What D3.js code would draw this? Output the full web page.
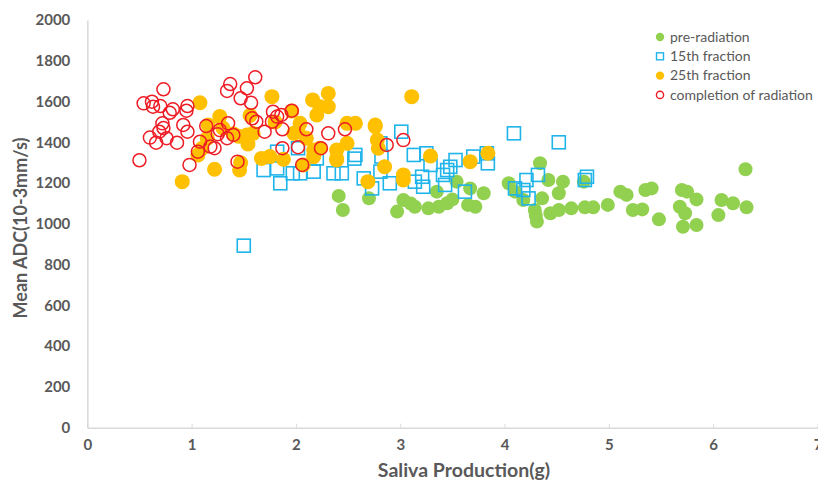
<!DOCTYPE html>
<html>
<head>
<meta charset="utf-8">
<script src="https://cdn.jsdelivr.net/npm/d3@7"></script>
<style>
  body { margin: 0; background: #fff; }
  text { font-family: Lato, "Open Sans", sans-serif; }
</style>
</head>
<body>
<div id="chart"></div>
<script>
const width = 818;
const height = 488;

const xTicks = [0, 1, 2, 3, 4, 5, 6, 7];
const yTicks = [0, 200, 400, 600, 800, 1000, 1200, 1400, 1600, 1800, 2000];

// [saliva (g), mean ADC]
const preRadiation = [
  [2.41, 1137], [2.45, 1068], [2.70, 1125], [2.97, 1060], [3.03, 1117],
  [3.14, 1084], [3.27, 1076], [3.37, 1084], [3.45, 1101], [3.35, 1158],
  [3.54, 1207], [3.67, 1174], [3.80, 1150], [3.65, 1093], [3.72, 1084],
  [4.04, 1199], [4.10, 1158], [4.34, 1297], [4.42, 1215], [4.56, 1207],
  [4.52, 1150], [4.36, 1125], [4.18, 1117], [4.76, 1207], [4.29, 1068],
  [4.31, 1011], [4.44, 1052], [4.52, 1068], [4.64, 1076], [4.77, 1081],
  [4.85, 1081], [4.99, 1093], [5.11, 1158], [5.17, 1142], [5.23, 1068],
  [5.32, 1071], [5.35, 1166], [5.41, 1174], [5.48, 1022], [5.70, 1166],
  [5.75, 1158], [5.68, 1084], [5.73, 1052], [5.84, 1120], [5.71, 986],
  [5.84, 994], [6.08, 1117], [6.19, 1101], [6.05, 1043], [6.32, 1081],
  [6.31, 1268], [3.10, 1100], [3.50, 1120], [4.30, 1040]
];

const fraction15 = [
  [1.50, 893], [1.69, 1264], [1.82, 1272], [1.85, 1199], [1.97, 1248],
  [1.82, 1354], [2.02, 1371], [2.17, 1256], [2.36, 1248], [2.44, 1248],
  [2.20, 1321], [2.04, 1248], [2.57, 1338], [2.56, 1320], [2.81, 1395],
  [2.82, 1330], [3.01, 1452], [3.13, 1338], [3.25, 1346], [3.29, 1289],
  [3.53, 1313], [3.48, 1280], [3.70, 1330], [3.83, 1346], [3.84, 1297],
  [2.65, 1223], [2.73, 1174], [2.81, 1256], [2.90, 1199], [3.14, 1207],
  [3.21, 1231], [3.22, 1182], [3.41, 1240], [3.45, 1264], [3.43, 1191],
  [3.62, 1158], [4.09, 1444], [4.52, 1400], [4.10, 1174], [4.21, 1215],
  [4.32, 1240], [4.18, 1166], [4.23, 1125], [4.77, 1215], [4.79, 1231]
];

const fraction25 = [
  [0.91, 1207], [1.08, 1594], [1.22, 1268], [1.06, 1338], [1.16, 1485],
  [1.27, 1526], [1.40, 1441], [1.45, 1430], [1.46, 1264], [1.47, 1300],
  [1.54, 1392], [1.59, 1444], [1.56, 1532], [1.67, 1321], [1.75, 1330],
  [1.77, 1624], [1.88, 1317], [1.96, 1553], [2.02, 1455], [2.16, 1608],
  [2.31, 1640], [2.23, 1575], [2.31, 1575], [2.20, 1534], [3.11, 1624],
  [2.04, 1493], [1.98, 1444], [1.53, 1436], [2.17, 1330], [2.23, 1371],
  [2.39, 1362], [2.39, 1313], [2.49, 1493], [2.57, 1493], [2.76, 1485],
  [2.78, 1411], [2.79, 1371], [2.85, 1280], [2.69, 1207], [3.03, 1240],
  [3.29, 1333], [3.67, 1305], [3.84, 1346], [3.03, 1215], [2.76, 1477],
  [2.49, 1395], [2.39, 1321], [2.07, 1289], [2.17, 1362], [1.10, 1370],
  [1.30, 1470], [1.80, 1500], [2.10, 1420], [1.15, 1420]
];

const completion = [
  [0.50, 1312], [0.54, 1591], [0.62, 1599], [0.63, 1575], [0.73, 1660],
  [0.70, 1578], [0.60, 1423], [0.66, 1398], [0.69, 1452], [0.72, 1493],
  [0.73, 1470], [0.76, 1420], [0.79, 1545], [0.82, 1562], [0.86, 1398],
  [0.92, 1485], [0.96, 1578], [0.95, 1555], [0.96, 1452], [0.98, 1289],
  [1.08, 1403], [1.06, 1354], [1.14, 1480], [1.18, 1379], [1.22, 1371],
  [1.27, 1460], [1.25, 1440], [1.34, 1420], [1.35, 1493], [1.34, 1652],
  [1.37, 1686], [1.40, 1436], [1.44, 1305], [1.47, 1616], [1.53, 1665],
  [1.57, 1594], [1.61, 1719], [1.58, 1518], [1.62, 1501], [1.70, 1452],
  [1.78, 1550], [1.77, 1501], [1.82, 1526], [1.86, 1534], [1.87, 1464],
  [1.87, 1371], [1.96, 1555], [2.02, 1376], [2.06, 1289], [2.10, 1464],
  [2.24, 1371], [2.31, 1444], [2.47, 1464], [2.87, 1387], [3.03, 1411]
];

const seriesNames = ["pre-radiation", "15th fraction", "25th fraction", "completion of radiation"];

const margin = { left: 87.3, right: 0.5, top: 20, bottom: 60.3 };

const x = d3.scaleLinear().domain([0, 7]).range([margin.left, width - margin.right]);
const y = d3.scaleLinear().domain([0, 2000]).range([height - margin.bottom, margin.top]);

const svg = d3
  .select("#chart")
  .append("svg")
  .attr("width", width)
  .attr("height", height);

const axisColor = "#d9d9d9";
const labelColor = "#595959";

// y axis: line only, no tick marks
const yAxis = svg
  .append("g")
  .attr("transform", `translate(${x(0)},0)`)
  .call(d3.axisLeft(y).tickValues(yTicks).tickSize(0).tickPadding(17).tickFormat(d3.format("d")));
yAxis.select(".domain").attr("stroke", axisColor).attr("stroke-width", 1.5);
yAxis
  .selectAll("text")
  .attr("fill", labelColor)
  .style("font-size", "15px")
  .style("font-weight", "bold");

const xAxis = svg
  .append("g")
  .attr("transform", `translate(0,${y(0)})`)
  .call(d3.axisBottom(x).tickValues(xTicks).tickSizeInner(-4).tickSizeOuter(0).tickPadding(12).tickFormat(d3.format("d")));
xAxis.select(".domain").attr("stroke", axisColor).attr("stroke-width", 1.5);
xAxis.selectAll(".tick line").attr("stroke", axisColor);
xAxis
  .selectAll("text")
  .attr("fill", labelColor)
  .style("font-size", "15px")
  .style("font-weight", "bold");

// axis titles
svg
  .append("text")
  .attr("x", 464)
  .attr("y", 477)
  .attr("text-anchor", "middle")
  .attr("fill", labelColor)
  .style("font-size", "19.5px")
  .style("font-weight", "bold")
  .text("Saliva Production(g)");

svg
  .append("text")
  .attr("transform", "translate(27,228) rotate(-90)")
  .attr("text-anchor", "middle")
  .attr("fill", labelColor)
  .style("font-size", "18px")
  .style("font-weight", "bold")
  .text("Mean ADC(10-3mm/s)");

const green = "#92d050";
const blue = "#1fb4ea";
const gold = "#ffc000";
const red = "#ee1c25";

svg
  .append("g")
  .selectAll("circle")
  .data(preRadiation)
  .join("circle")
  .attr("cx", (d) => x(d[0]))
  .attr("cy", (d) => y(d[1]))
  .attr("r", 7)
  .attr("fill", green);

svg
  .append("g")
  .selectAll("rect")
  .data(fraction15)
  .join("rect")
  .attr("x", (d) => x(d[0]) - 6.5)
  .attr("y", (d) => y(d[1]) - 6.5)
  .attr("width", 13)
  .attr("height", 13)
  .attr("fill", "none")
  .attr("stroke", blue)
  .attr("stroke-width", 1.6);

svg
  .append("g")
  .selectAll("circle")
  .data(fraction25)
  .join("circle")
  .attr("cx", (d) => x(d[0]))
  .attr("cy", (d) => y(d[1]))
  .attr("r", 7.5)
  .attr("fill", gold);

svg
  .append("g")
  .selectAll("circle")
  .data(completion)
  .join("circle")
  .attr("cx", (d) => x(d[0]))
  .attr("cy", (d) => y(d[1]))
  .attr("r", 6.5)
  .attr("fill", "none")
  .attr("stroke", red)
  .attr("stroke-width", 1.5);

// legend
const legend = svg.append("g").attr("transform", "translate(660,37)");
const rowGap = 19.3;

seriesNames.forEach((name, i) => {
  const row = legend.append("g").attr("transform", `translate(0,${i * rowGap})`);
  if (i === 1) {
    row.append("rect")
      .attr("x", -3.5).attr("y", -3.5).attr("width", 7).attr("height", 7)
      .attr("fill", "none").attr("stroke", blue).attr("stroke-width", 1.4);
  } else if (i === 3) {
    row.append("circle").attr("r", 3.6)
      .attr("fill", "none").attr("stroke", red).attr("stroke-width", 1.4);
  } else {
    row.append("circle").attr("r", 4.2).attr("fill", i === 0 ? green : gold);
  }
  row.append("text")
    .attr("x", 10)
    .attr("y", 4.8)
    .attr("fill", labelColor)
    .style("font-size", "14px")
    .text(name);
});
</script>
</body>
</html>
